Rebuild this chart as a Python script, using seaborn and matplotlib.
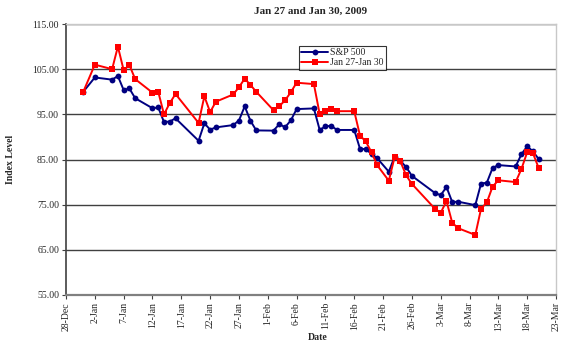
import matplotlib
matplotlib.use("Agg")
import matplotlib.pyplot as plt
import seaborn as sns
import pandas as pd

dates = [
    "2008-12-31",
    "2009-01-02", "2009-01-05", "2009-01-06", "2009-01-07", "2009-01-08", "2009-01-09",
    "2009-01-12", "2009-01-13", "2009-01-14", "2009-01-15", "2009-01-16",
    "2009-01-20", "2009-01-21", "2009-01-22", "2009-01-23",
    "2009-01-26", "2009-01-27", "2009-01-28", "2009-01-29", "2009-01-30",
    "2009-02-02", "2009-02-03", "2009-02-04", "2009-02-05", "2009-02-06",
    "2009-02-09", "2009-02-10", "2009-02-11", "2009-02-12", "2009-02-13",
    "2009-02-16", "2009-02-17", "2009-02-18", "2009-02-19", "2009-02-20",
    "2009-02-22", "2009-02-23", "2009-02-24", "2009-02-25", "2009-02-26",
    "2009-03-02", "2009-03-03", "2009-03-04", "2009-03-05", "2009-03-06",
    "2009-03-09", "2009-03-10", "2009-03-11", "2009-03-12", "2009-03-13",
    "2009-03-16", "2009-03-17", "2009-03-18", "2009-03-19", "2009-03-20",
]

sp500 = [
    100.00, 103.16, 102.68, 103.48, 100.38, 100.72, 98.57, 96.35, 96.52, 93.29,
    93.41, 94.12, 89.15, 93.02, 91.61, 92.11, 92.62, 93.63, 96.77, 93.57,
    91.44, 91.39, 92.83, 92.14, 93.65, 96.16, 96.31, 91.58, 92.31, 92.47,
    91.54, 91.54, 87.37, 87.29, 86.24, 85.25, 82.30, 85.60, 84.68, 83.35,
    81.38, 77.59, 77.09, 78.92, 75.57, 75.66, 74.90, 79.67, 79.86, 83.12,
    83.76, 83.46, 86.15, 87.94, 86.80, 85.09,
]

jan27_30 = [
    100.0, 106.0, 105.0, 110.0, 104.8, 105.9, 102.8, 99.8, 100.0, 95.0,
    97.5, 99.5, 93.1, 99.0, 95.5, 97.8, 99.4, 101.0, 102.9, 101.5,
    100.0, 95.9, 96.8, 98.1, 99.9, 102.0, 101.7, 95.1, 95.7, 96.2,
    95.7, 95.7, 90.3, 89.0, 86.6, 83.7, 80.3, 85.5, 84.6, 81.5,
    79.6, 74.1, 73.2, 75.8, 71.0, 69.8, 68.3, 74.1, 75.5, 79.0,
    80.4, 80.0, 82.9, 86.6, 86.4, 83.1,
]

series_names = ["S&P 500", "Jan 27-Jan 30"]
title = "Jan 27 and Jan 30, 2009"
x_label = "Date"
y_label = "Index Level"
y_ticks = [55, 65, 75, 85, 95, 105, 115]

sns.set_theme(style="white")
plt.rcParams["font.family"] = ["Liberation Serif", "DejaVu Serif"]

df = pd.DataFrame({
    "Date": pd.to_datetime(dates * 2),
    "Value": sp500 + jan27_30,
    "Series": [series_names[0]] * len(sp500) + [series_names[1]] * len(jan27_30),
})

fig = plt.figure(figsize=(5.65, 3.43), dpi=100)
ax = fig.add_axes([66 / 565, 1 - 295 / 343, (556 - 66) / 565, (295 - 24) / 343])

sns.lineplot(data=df, x="Date", y="Value", hue="Series", style="Series",
             hue_order=series_names, style_order=series_names,
             palette={series_names[0]: "#000080", series_names[1]: "#FF0000"},
             markers={series_names[0]: "o", series_names[1]: "s"},
             dashes=False, linewidth=1.4, markersize=4.2, markeredgewidth=0,
             ax=ax)

ax.set_ylim(55, 115)
ax.set_yticks(y_ticks)
ax.set_yticklabels([f"{v:.2f}" for v in y_ticks])
start = pd.Timestamp("2008-12-28")
end = pd.Timestamp("2009-03-23")
ax.set_xlim(start, end)
ticks = pd.date_range(start, end, freq="5D")
ax.set_xticks(ticks)
ax.set_xticklabels([f"{t.day}-{t.strftime('%b')}" for t in ticks], rotation=90)

ax.grid(axis="y", color="#404040", linewidth=1.0)
ax.set_axisbelow(True)
for s in ["top", "right"]:
    ax.spines[s].set_color("#c8c8c8")
    ax.spines[s].set_linewidth(1.0)
ax.spines["left"].set_color("#404040")
ax.spines["left"].set_linewidth(1.2)
ax.spines["bottom"].set_color("#808080")
ax.spines["bottom"].set_linewidth(1.6)

ax.tick_params(axis="both", which="both", labelsize=7, length=3, width=0.8,
               color="#404040", direction="out", pad=2, bottom=True, left=True)

ax.set_xlabel(x_label, fontsize=7, fontweight="bold")
ax.set_ylabel(y_label, fontsize=7, fontweight="bold")
ax.xaxis.set_label_coords((318 - 66) / 490, (295 - 333) / 271)
ax.yaxis.set_label_coords((15 - 66) / 490, 0.5)
ax.set_title(title, fontsize=8, fontweight="bold", pad=7)

leg = ax.legend(loc="upper left", bbox_to_anchor=(0.475, 0.92), fontsize=7,
                frameon=True, fancybox=False, edgecolor="black",
                handlelength=2.8, handletextpad=0.2, borderpad=0.25,
                labelspacing=0.1, borderaxespad=0)
leg.set_title(None)
leg.get_frame().set_linewidth(0.8)

fig.savefig("out.png", dpi=100, facecolor="white")
